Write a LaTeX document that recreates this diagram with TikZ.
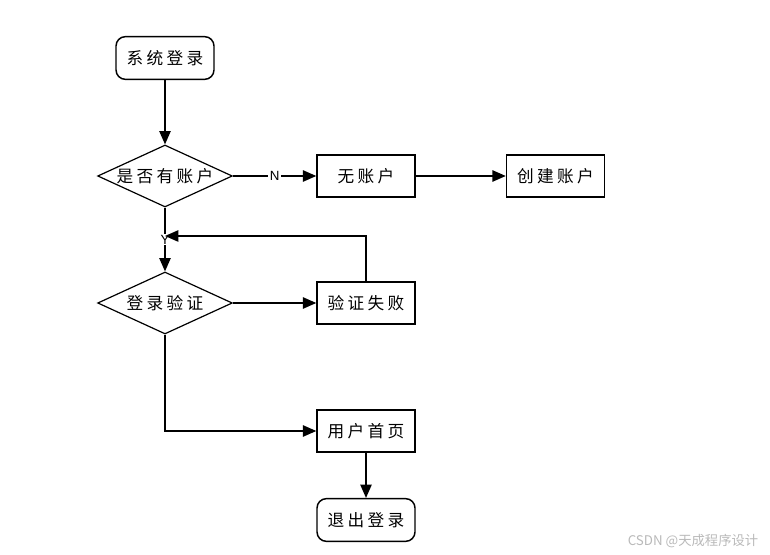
\documentclass[tikz,border=0pt]{standalone}
\usepackage{fontspec}
\newfontfamily\cjk[LetterSpace=20]{Noto Sans CJK SC}
\newfontfamily\cjkmark{Noto Sans CJK SC}
\newfontfamily\lab{Liberation Sans}
\usetikzlibrary{shapes.geometric,arrows.meta,positioning}

\begin{document}
\begin{tikzpicture}[
    x=0.75pt, y=-0.75pt,
    startstop/.style={rectangle, rounded corners=7pt, draw=black, line width=1.1pt, minimum width=73.5pt, minimum height=32pt, align=center, font=\cjk\fontsize{12.5}{14}\selectfont},
    process/.style={rectangle, draw=black, line width=1.1pt, minimum width=73.5pt, minimum height=31.5pt, align=center, font=\cjk\fontsize{12.5}{14}\selectfont},
    decision/.style={diamond, draw=black, line width=0.9pt, aspect=2.18, inner sep=0pt, minimum width=101pt, minimum height=46.5pt, font=\cjk\fontsize{12.5}{14}\selectfont},
    flow/.style={-{Triangle[length=10pt,width=8.5pt]}, line width=1.1pt},
    yn/.style={fill=white, inner sep=1pt, font=\lab\fontsize{10}{11}\selectfont}
]
\useasboundingbox (0,0) rectangle (770,555);

% Login entry
\node[startstop] (start) at (165,58) {系统登录};

% Account check
\node[decision] (hasacc) at (165,176) {是否有账户};
\node[process] (noacc) at (366,176) {无账户};
\node[process] (create) at (555.5,176) {创建账户};

% Login verification
\node[decision] (verify) at (165,303) {登录验证};
\node[process] (fail) at (366,303) {验证失败};
\coordinate (retry) at (165,236);

% User pages
\node[process] (home) at (366,431) {用户首页};
\node[startstop] (logout) at (366,520) {退出登录};

% Watermark
\node[text=gray!55, font=\cjkmark\fontsize{10}{12}\selectfont] (mark) at (693,541) {CSDN @天成程序设计};

% Arrows
\draw[flow] (start) -- (hasacc);
\draw[flow] (hasacc) -- node[yn] {N} (noacc);
\draw[flow] (noacc) -- (create);
\draw[flow] (hasacc) -- node[yn] {Y} (verify);
\draw[flow] (verify) -- (fail);
\draw[flow] (fail) |- (retry);
\draw[flow] (verify.south) |- (home.west);
\draw[flow] (home) -- (logout);

\end{tikzpicture}
\end{document}
